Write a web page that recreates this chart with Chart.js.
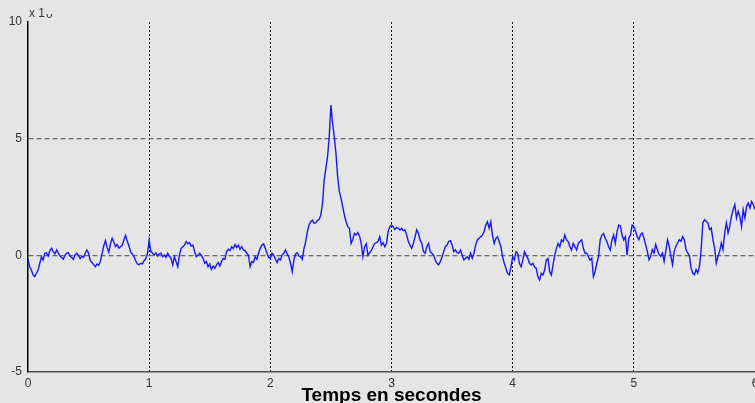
<!DOCTYPE html>
<html>
<head>
<meta charset="utf-8">
<script src="https://cdn.jsdelivr.net/npm/chart.js@4"></script>
<style>
  html, body { margin: 0; padding: 0; background: #e5e5e5; }
  #wrap { width: 755px; height: 403px; }
</style>
</head>
<body>
<div id="wrap"><canvas id="signalChart" width="755" height="403"></canvas></div>
<script>
/* ── Data: signal, one array per second ── */
var samplesPerSecond = 72;
var sec0 = [-0.17,-0.49,-0.63,-0.84,-0.91,-0.77,-0.63,-0.34,-0.06,-0.2,
  0.09,0.11,-0.03,0.2,0.3,0.16,0.06,0.23,0.09,-0.03,
  -0.09,-0.17,0.01,0.09,0.11,-0.03,-0.09,-0.17,0.03,0.09,
  0,-0.14,-0.03,-0.09,0.09,0.23,0.09,-0.23,-0.31,-0.4,
  -0.49,-0.37,-0.43,-0.26,0.06,0.4,0.63,0.34,0.14,0.49,
  0.73,0.57,0.37,0.46,0.31,0.37,0.43,0.66,0.86,0.6,
  0.4,0.14,0.06,-0.06,-0.23,-0.37,-0.4,-0.34,-0.37,-0.23,
  -0.14,0.09];
var sec1 = [0.66,0.16,0.09,0.01,0.11,-0.03,0.06,0.09,-0.06,0.01,
  -0.09,0.09,-0.03,-0.13,-0.41,-0.06,-0.27,-0.49,0.01,0.3,
  0.37,0.44,0.59,0.49,0.54,0.4,0.44,0.16,-0.06,0.01,
  0.09,0.01,-0.13,-0.34,-0.27,-0.49,-0.37,-0.6,-0.46,-0.56,
  -0.41,-0.31,-0.46,-0.27,-0.13,-0.17,0.16,0.26,0.2,0.37,
  0.29,0.46,0.34,0.44,0.26,0.37,0.23,0.2,0.09,0.01,
  -0.49,-0.27,-0.31,-0.06,-0.17,0.09,0.3,0.44,0.49,0.3,
  0.09,-0.09];
var sec2 = [-0.13,0.09,0.01,-0.17,-0.31,-0.13,-0.2,0.01,0.09,0.23,
  0.06,-0.06,-0.34,-0.7,-0.2,0.06,0.11,-0.03,-0.06,-0.17,
  0.3,0.59,1.01,1.3,1.44,1.51,1.37,1.4,1.49,1.54,
  1.73,2.23,3.23,3.73,4.23,5.09,6.44,5.66,5.09,4.37,
  3.37,2.73,2.44,2.09,1.73,1.44,1.23,1.16,0.51,0.69,
  0.94,0.87,0.97,0.83,0.51,-0.06,0.37,0.49,0.01,0.11,
  0.2,0.37,0.51,0.54,0.59,0.8,0.44,0.54,0.37,0.51,
  1.01,1.23];
var sec3 = [1.3,1.23,1.11,1.2,1.16,1.09,1.16,1.06,1.09,0.87,
  0.59,0.44,0.3,0.51,0.8,1.09,0.94,0.66,0.51,0.16,
  0.09,0.37,0.51,0.16,0.09,0.01,-0.2,-0.34,-0.41,-0.27,
  -0.07,0.16,0.37,0.44,0.59,0.63,0.44,0.16,0.23,0.11,
  0.09,0.23,0.01,-0.2,-0.13,-0.06,-0.17,0.09,-0.13,0.09,
  0.44,0.66,0.73,0.8,0.87,1.01,1.3,1.44,1.16,1.44,
  0.87,0.51,0.73,0.8,0.59,0.37,-0.06,-0.34,-0.56,-0.77,
  -0.84,-0.49];
var sec4 = [-0.06,-0.2,0.16,0.09,-0.34,-0.49,-0.2,0.16,0.01,-0.13,
  -0.34,-0.41,-0.34,-0.49,-0.56,-0.91,-1.06,-0.77,-0.84,-0.63,
  -0.2,-0.13,-0.7,-0.84,-0.41,0.01,0.3,0.51,0.37,0.66,
  0.59,0.87,0.66,0.59,0.37,0.23,0.51,0.37,0.23,0.51,
  0.59,0.66,0.3,0.09,0.09,-0.06,-0.2,-0.13,-0.91,-0.7,
  -0.34,-0.06,0.66,0.87,0.94,0.73,0.59,0.37,0.23,0.66,
  0.87,0.51,1.01,1.3,1.26,0.87,0.66,0.8,0.01,0.73,
  0.87,1.3];
var sec5 = [1.24,1.03,0.81,0.67,0.89,0.96,0.74,0.46,0.17,-0.19,
  -0.04,0.24,0.1,0.46,0.24,0.03,-0.04,0.1,-0.26,0.17,
  0.67,0.39,-0.04,-0.4,0.17,0.39,0.53,0.67,0.6,0.81,
  0.67,0.24,0.1,-0.01,-0.54,-0.76,-0.83,-0.61,-0.76,-0.47,
  0.24,1.39,1.53,1.46,1.39,1.1,1.17,0.67,0.31,-0.33,
  -0.04,0.17,0.53,0.24,0.96,1.39,0.96,1.24,1.67,1.96,
  2.17,1.6,1.89,1.67,1.24,1.96,1.6,2.1,2.24,2.03,
  2.31,2.17,1.96];

var xTicks = [0, 1, 2, 3, 4, 5, 6];
var yTicks = [-5, 0, 5, 10];
var xTitle = 'Temps en secondes';
var yExponent = 'x 10';

(function () {
  'use strict';

  var values = [].concat(sec0, sec1, sec2, sec3, sec4, sec5);
  var points = values.map(function (v, i) {
    return { x: i / samplesPerSecond, y: v };
  });

  /* ── Background, axis title and exponent ─────────── */
  var decor = {
    id: 'decor',
    beforeDraw: function (chart) {
      var ctx = chart.ctx;
      ctx.save();
      ctx.fillStyle = '#e5e5e5';
      ctx.fillRect(0, 0, chart.width, chart.height);
      ctx.restore();
    },
    afterDraw: function (chart) {
      var ctx = chart.ctx, area = chart.chartArea;
      ctx.save();
      ctx.fillStyle = '#000';
      ctx.font = "bold 19px 'Liberation Sans', Arial, sans-serif";
      ctx.textAlign = 'center';
      ctx.textBaseline = 'alphabetic';
      ctx.fillText(xTitle, (area.left + area.right) / 2, 401);

      // exponent: the "0" is cut off at the top in the original
      ctx.fillStyle = '#333';
      ctx.font = "12px 'Liberation Sans', Arial, sans-serif";
      ctx.textAlign = 'left';
      ctx.fillText(yExponent.slice(0, 3), area.left + 1, 17);
      var w = ctx.measureText(yExponent.slice(0, 3)).width;
      ctx.beginPath();
      ctx.rect(0, 14, chart.width, 8);
      ctx.clip();
      ctx.fillText(yExponent.slice(3), area.left + 2 + w, 18);
      ctx.restore();
    }
  };

  new Chart(document.getElementById('signalChart'), {
    type: 'line',
    data: {
      datasets: [{
        data: points,
        borderColor: '#1818f2',
        borderWidth: 1.4,
        pointRadius: 0,
        tension: 0,
        fill: false
      }]
    },
    options: {
      responsive: false,
      animation: false,
      parsing: false,
      layout: { padding: { top: 22, right: 0, left: 0, bottom: 0 } },
      plugins: { legend: { display: false }, tooltip: { enabled: false } },
      scales: {
        x: {
          type: 'linear',
          min: xTicks[0], max: xTicks[xTicks.length - 1],
          afterBuildTicks: function (s) { s.ticks = xTicks.map(function (v) { return { value: v }; }); },
          afterFit: function (s) { s.height = 31; s.paddingLeft = 0; s.paddingRight = 0; },
          grid: {
            drawTicks: false,
            lineWidth: 1,
            color: function (c) { return c.tick && c.tick.value === 0 ? 'rgba(0,0,0,0)' : '#111'; }
          },
          border: { display: true, color: '#4d4d4d', width: 1.5, dash: [2, 2] },
          ticks: {
            padding: 4,
            color: '#333',
            maxRotation: 0,
            font: { family: "'Liberation Sans', Arial, sans-serif", size: 12 }
          }
        },
        y: {
          min: yTicks[0], max: yTicks[yTicks.length - 1],
          afterBuildTicks: function (s) { s.ticks = yTicks.map(function (v) { return { value: v }; }); },
          afterFit: function (s) { s.width = 28; s.paddingTop = 0; s.paddingBottom = 0; },
          grid: {
            drawTicks: false,
            lineWidth: 1.2,
            color: function (c) {
              var v = c.tick && c.tick.value;
              return (v === 0 || v === 5) ? '#6a6a6a' : 'rgba(0,0,0,0)';
            }
          },
          border: { display: true, color: '#000', width: 1.5, dash: [5, 3] },
          ticks: {
            padding: 6,
            color: '#333',
            font: { family: "'Liberation Sans', Arial, sans-serif", size: 12 }
          }
        }
      }
    },
    plugins: [decor]
  });
}());
</script>
</body>
</html>
